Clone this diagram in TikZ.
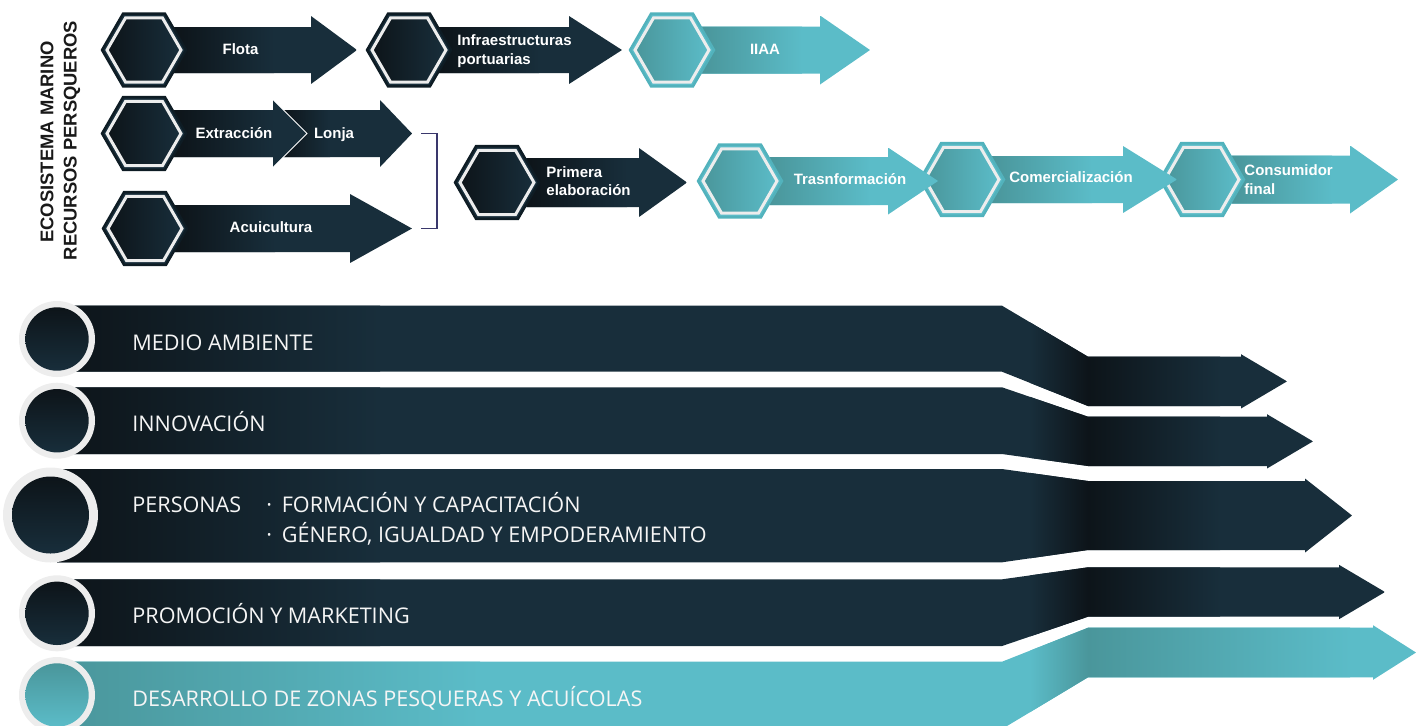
\documentclass[tikz,border=0pt]{standalone}
\usepackage{fontspec}
\setmainfont{Open Sans}
\newfontfamily\headfont{Liberation Sans}
\usetikzlibrary{shapes.geometric}
\definecolor{navy}{RGB}{24,46,59}
\definecolor{navyDk}{RGB}{13,20,25}
\definecolor{navyEdge}{RGB}{14,28,36}
\definecolor{aqua}{RGB}{91,188,200}
\definecolor{aquaDk}{RGB}{74,150,155}
\definecolor{aquaEdge}{RGB}{82,178,188}
\definecolor{ring}{RGB}{237,237,237}
\definecolor{brace}{RGB}{58,56,108}

\begin{document}
\begin{tikzpicture}[x=0.5pt, y=-0.5pt,
    hexout/.style={regular polygon, regular polygon sides=6, minimum size=42pt,
      inner sep=0pt, fill=#1, draw=#1Edge, line width=1.2pt},
    hexin/.style={regular polygon, regular polygon sides=6, minimum size=37pt,
      inner sep=0pt, left color=#1Dk, right color=#1, draw=ring, line width=1.5pt},
    stage/.style={font=\headfont\bfseries\fontsize{7.5}{9.15}\selectfont, text=white, inner sep=0pt},
    side/.style={font=\headfont\bfseries\fontsize{9.2}{11}\selectfont, text=black!90, inner sep=0pt},
    band/.style={font=\fontsize{10.8}{14}\selectfont, text=white!96!black, inner sep=0pt, anchor=base west}]

  \useasboundingbox (0,0) rectangle (1416,725);
  \clip (0,0) rectangle (1416,725);

  % side title
  \node[side, rotate=90, anchor=base] (eco) at (53.3,142) {ECOSISTEMA MARINO};
  \node[side, rotate=90, anchor=base] (rec) at (76.7,140.5) {RECURSOS PERSQUEROS};

  % lonja arrow (sits behind extraccion)
  \begin{scope}
    \clip (280,110) -- (380,110) -- (380,100) -- (412,133.5) -- (380,167) -- (380,157) -- (280,157) -- cycle;
    \fill[navy] (280,100) rectangle (412,167);
    \shade[left color=navyDk, right color=navy] (280,100) rectangle (330,167);
  \end{scope}
  \coordinate (lonjaTip) at (412,133.5);
  \coordinate (acuiTip) at (412,228.5);

  % hexagon arrows, right to left so heads overlap
  \foreach \name/\hx/\hy/\sh/\hb/\hh/\tp/\col in {
      iiaa/672/50/23.5/820/34.5/870/aqua,
      infra/409/50/23/569/34/622/navy,
      flota/144/50/23/311/34/357/navy,
      consum/1202/179.5/24/1350/34/1398/aqua,
      comer/962/179.5/23.5/1123/33.5/1177/aqua,
      trans/740/181/24/888/33.5/938/aqua,
      primera/497/182.5/24.5/639/34.5/687/navy,
      acui/145/228.5/23.5/350/34.5/412/navy,
      extr/144/133.5/23.5/273/33.5/307/navy}{
    \begin{scope}
      \clip (\hx,\hy-\sh) -- (\hb,\hy-\sh) -- (\hb,\hy-\hh) -- (\tp,\hy)
        -- (\hb,\hy+\hh) -- (\hb,\hy+\sh) -- (\hx,\hy+\sh) -- cycle;
      \fill[\col] (\hx,\hy-\hh) rectangle (\tp,\hy+\hh);
      \shade[left color=\col Dk, right color=\col] (\hx+30,\hy-\hh) rectangle (\hx+130,\hy+\hh);
    \end{scope}
    \node[hexout=\col] (\name) at (\hx,\hy) {};
    \node[hexin=\col] at (\name) {};
  }
  \draw[white, line width=0.5pt] (273,99.5) -- (307,133.5) -- (273,167.5);

  \node[stage, anchor=base] (flotaL) at (240.5,54.5) {Flota};
  \node[stage, anchor=west, align=left] (infraL) at (457,51) {Infraestructuras\\portuarias};
  \node[stage, anchor=base] (iiaaL) at (765,54.3) {IIAA};
  \node[stage, anchor=base] (extrL) at (234,138.3) {Extracción};
  \node[stage, anchor=base] (lonjaL) at (334,138.3) {Lonja};
  \node[stage, anchor=base] (acuiL) at (271,232.3) {Acuicultura};
  \node[stage, anchor=west, align=left] (primeraL) at (546,181.3) {Primera\\elaboración};
  \node[stage, anchor=base] (transL) at (850,184.3) {Trasnformación};
  \node[stage, anchor=base] (comerL) at (1071,182.3) {Comercialización};
  \node[stage, anchor=west, align=left] (consumL) at (1244,179.6) {Consumidor\\final};

  \draw[brace, line width=0.9pt] ([xshift=4.5pt]lonjaTip) -- ++(16,0) |- ([xshift=4.5pt]acuiTip);

  % bands
  \foreach \ta/\ba/\tb/\bb/\hb/\tp/\col/\gl/\gr in {
      305.7/371.7/356.7/406/1241/1287/navy/380/1220,
      387.3/454/416.7/466/1267/1313/navy/380/1220,
      469/562.3/481/550/1305/1352/navy/380/1220,
      579.3/646/567.3/616.7/1339/1385/navy/380/1220,
      661.7/729/627.7/677.3/1373/1416/aqua/480/1350}{
    \begin{scope}
      \clip (57,\ta) -- (1002,\ta) -- (1088,\tb) -- (\hb,\tb) -- (\hb,\tb-2.5)
        -- (\tp,{(\tb+\bb)/2}) -- (\hb,\bb+2.5) -- (\hb,\bb) -- (1088,\bb)
        -- (1002,\ba) -- (57,\ba) -- cycle;
      \fill[\col] (57,\ta-60) rectangle (\tp,\ba+60);
      \shade[left color=\col Dk, right color=\col] (57,\ta-60) rectangle (\gl,\ba+60);
      \shade[left color=\col, right color=\col Dk] (1030,\ta-60) rectangle (1088,\ba+60);
      \shade[left color=\col Dk, right color=\col] (1088,\ta-60) rectangle (\gr,\ba+60);
    \end{scope}
  }

  \foreach \cx/\cy/\ro/\ri/\col [count=\i] in {
      57/339/38/31.7/navy, 57/420.7/38/31.7/navy, 50.5/515/47.5/38.5/navy,
      57/613.3/38/31.7/navy, 57/695/38/31.7/aqua}{
    \node[circle, inner sep=0pt, minimum size=\ro pt, fill=ring] (dot\i) at (\cx,\cy) {};
    \node[circle, inner sep=0pt, minimum size=\ri pt, top color=\col Dk, bottom color=\col] at (dot\i) {};
  }

  \node[band] (medio) at (132,350) {MEDIO AMBIENTE};
  \node[band] (innov) at (132,431.7) {INNOVACIÓN};
  \node[band] (pers) at (132,512.7) {PERSONAS};
  \node[band] (form) at (266,512.7) {·\hspace{0.45em}FORMACIÓN Y CAPACITACIÓN};
  \node[band] (gen) at (266,542.3) {·\hspace{0.45em}GÉNERO, IGUALDAD Y EMPODERAMIENTO};
  \node[band] (promo) at (132,623.3) {PROMOCIÓN Y MARKETING};
  \node[band] (desa) at (132,706) {DESARROLLO DE ZONAS PESQUERAS Y ACUÍCOLAS};
\end{tikzpicture}
\end{document}
